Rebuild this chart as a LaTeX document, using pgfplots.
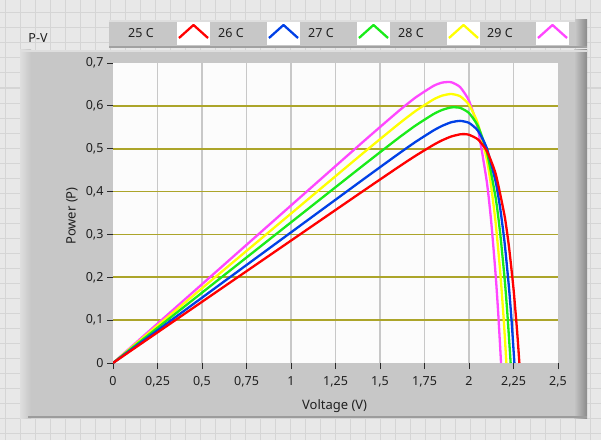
\documentclass[border=0pt]{standalone}
\usepackage{fontspec}
\setmainfont{Noto Sans}
\usepackage{pgfplots}
\usepackage{pgfplotstable}
\pgfplotsset{compat=1.18}

\definecolor{bgcell}{RGB}{232,232,232}
\definecolor{bgline}{RGB}{213,213,213}
\definecolor{panel}{RGB}{199,199,199}
\definecolor{panellight}{RGB}{222,222,222}
\definecolor{paneldark}{RGB}{138,138,138}
\definecolor{plotbg}{RGB}{252,252,252}
\definecolor{olivegrid}{RGB}{172,165,42}
\definecolor{vgrid}{RGB}{200,200,200}
\definecolor{txt}{RGB}{32,32,32}
\definecolor{tickc}{RGB}{40,40,40}
\definecolor{cA}{RGB}{255,0,0}
\definecolor{cB}{RGB}{0,64,230}
\definecolor{cC}{RGB}{25,235,25}
\definecolor{cD}{RGB}{255,255,0}
\definecolor{cE}{RGB}{255,70,255}

% P-V curves, voltage (V) against power (P)
\pgfplotstableread{
V P
0 0
0.5 0.1428
1.0 0.2856
1.4 0.3998
1.6 0.4563
1.7 0.4836
1.8 0.5089
1.85 0.5198
1.9 0.5285
1.95 0.5336
1.975 0.5341
2.0 0.5326
2.05 0.5218
2.1 0.4948
2.15 0.4411
2.2 0.3432
2.225 0.2696
2.25 0.1732
2.27 0.0756
2.283 0
}\tA
\pgfplotstableread{
V P
0 0
0.5 0.1524
1.0 0.3048
1.4 0.4266
1.6 0.4869
1.7 0.5160
1.8 0.5425
1.85 0.5535
1.9 0.5617
1.95 0.5650
2.0 0.5603
2.05 0.5421
2.1 0.5013
2.15 0.4227
2.175 0.3618
2.2 0.2807
2.225 0.1738
2.24 0.0939
2.255 0
}\tB
\pgfplotstableread{
V P
0 0
0.5 0.1641
1.0 0.3282
1.4 0.4593
1.6 0.5238
1.7 0.5542
1.8 0.5807
1.85 0.5906
1.9 0.5964
1.95 0.5954
2.0 0.5833
2.05 0.5531
2.1 0.4931
2.15 0.3847
2.175 0.3032
2.2 0.1972
2.215 0.1186
2.234 0
}\tC
\pgfplotstableread{
V P
0 0
0.5 0.1744
1.0 0.3487
1.4 0.4880
1.6 0.5562
1.7 0.5881
1.8 0.6149
1.85 0.6240
1.9 0.6277
1.95 0.6225
2.0 0.6026
2.05 0.5586
2.1 0.4749
2.125 0.4107
2.15 0.3257
2.175 0.2147
2.195 0.1017
2.21 0
}\tD
\pgfplotstableread{
V P
0 0
0.5 0.1838
1.0 0.3676
1.4 0.5144
1.6 0.5863
1.7 0.6196
1.8 0.6465
1.85 0.6544
1.9 0.6552
1.95 0.6438
2.0 0.6121
2.05 0.5463
2.1 0.4230
2.125 0.3286
2.15 0.2037
2.165 0.1101
2.18 0
}\tE

\begin{document}
\begin{tikzpicture}[font=\fontsize{12.5}{15}\selectfont, text=txt]
\path[use as bounding box] (0pt,0pt) rectangle (601pt,440pt);
\begin{scope}[x=1pt, y=1pt]
% front panel background with its grid
\fill[bgcell] (0,0) rectangle (601,440);
\foreach \i in {5,20,...,600} \draw[bgline, line width=1pt] (\i,0) -- (\i,440);
\foreach \j in {7,22,...,440} \draw[bgline, line width=1pt] (0,\j) -- (601,\j);

% graph frame
\fill[panel] (20,22) rectangle (587,390);
\shade[left color=panellight, right color=panel] (20,22) rectangle (31,390);
\shade[left color=panel, right color=paneldark] (574,22) rectangle (587,390);
\fill[paneldark!85] (28,22) rectangle (587,24);
\fill[panellight] (20,388) rectangle (587,390);

\node[anchor=center] at (38,402) {P-V};

% plot legend frame
\fill[panel] (109,392) rectangle (587,420);
\fill[panellight] (109,418) rectangle (587,420);
\shade[left color=panel, right color=paneldark] (575,392) rectangle (587,420);
\fill[paneldark!80] (109,392) rectangle (587,393.5);
\foreach \x/\c/\l in {128/cA/25 C, 218/cB/26 C, 308/cC/27 C, 398/cD/28 C, 487/cE/29 C}{
  \node[anchor=west, inner sep=0pt] at (\x,407) {\l};
  \pgfmathsetmacro{\sx}{\x+49}
  \fill[white] (\sx,395) rectangle ({\sx+33},418);
  \draw[\c, line width=2.3pt, line join=round] ({\sx+2},402) -- ({\sx+16.5},415) -- ({\sx+31},402);
}
\end{scope}

\begin{axis}[
  at={(113pt,77pt)}, anchor=south west,
  width=445pt, height=300pt, scale only axis,
  xmin=0, xmax=2.5, ymin=0, ymax=0.7,
  axis background/.style={fill=plotbg},
  axis line style={draw=none},
  xtick={0,0.25,0.5,0.75,1,1.25,1.5,1.75,2,2.25,2.5},
  xticklabels={0,{0,25},{0,5},{0,75},1,{1,25},{1,5},{1,75},2,{2,25},{2,5}},
  ytick={0,0.1,0.2,0.3,0.4,0.5,0.6,0.7},
  yticklabels={0,{0,1},{0,2},{0,3},{0,4},{0,5},{0,6},{0,7}},
  tick align=outside, major tick length=6pt,
  xtick pos=left, ytick pos=left,
  tick style={color=tickc, line width=1pt},
  tick label style={font=\fontsize{12.5}{15}\selectfont, text=txt},
  xticklabel style={yshift=-4pt},
  xlabel={Voltage (V)}, ylabel={Power (P)},
  label style={font=\fontsize{13}{15}\selectfont, text=txt},
  xlabel style={at={(axis description cs:0.498,-0.143)}, anchor=center},
  ylabel style={at={(axis description cs:-0.092,0.49)}, anchor=center, rotate=0},
  every axis plot/.append style={line width=2.3pt, line join=round, smooth, tension=0.35},
]
\pgfplotsinvokeforeach{0.25,0.5,0.75,1,1.25,1.5,1.75,2,2.25}{
  \draw[vgrid, line width=1.2pt] (axis cs:#1,0) -- (axis cs:#1,0.7);
}
\pgfplotsinvokeforeach{0.1,0.2,0.3,0.4,0.5,0.6}{
  \draw[olivegrid, line width=1.6pt] (axis cs:0,#1) -- (axis cs:2.5,#1);
}
\addplot[cE] table[x=V, y=P] {\tE};
\addplot[cD] table[x=V, y=P] {\tD};
\addplot[cC] table[x=V, y=P] {\tC};
\addplot[cB] table[x=V, y=P] {\tB};
\addplot[cA] table[x=V, y=P] {\tA};
\end{axis}
\end{tikzpicture}
\end{document}
